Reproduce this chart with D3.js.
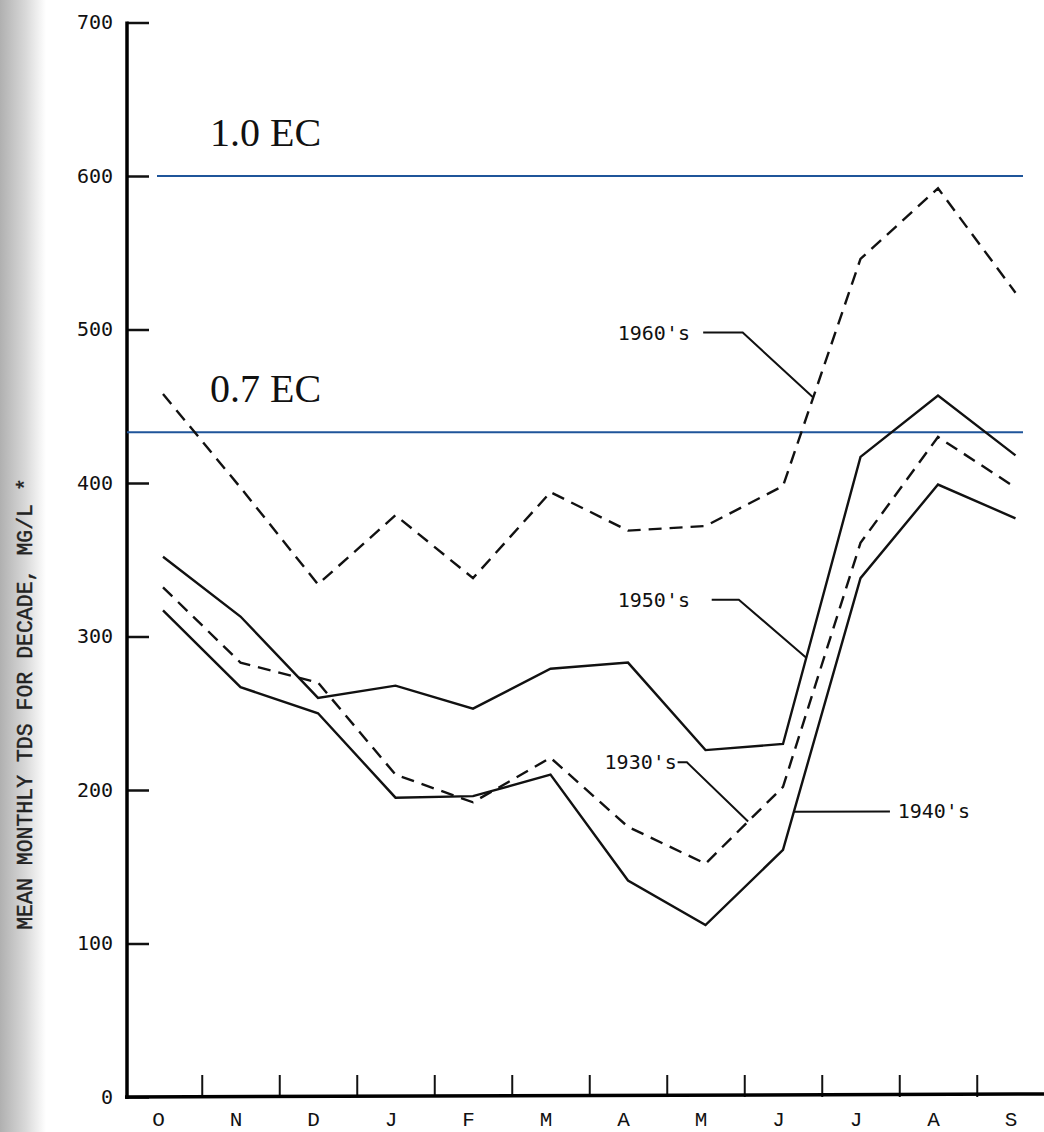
<!DOCTYPE html>
<html>
<head>
<meta charset="utf-8">
<script src="https://cdn.jsdelivr.net/npm/d3@7"></script>
<style>
  body { margin: 0; background: #fff; }
  svg { display: block; }
</style>
</head>
<body>
<div id="chart"></div>
<script>
// months of the water year, Oct..Sep
const months = ["O", "N", "D", "J", "F", "M", "A", "M", "J", "J", "A", "S"];
const yTicks = [0, 100, 200, 300, 400, 500, 600, 700];

// mean monthly TDS, mg/L
const tds1930s = [332, 283, 270, 210, 192, 221, 176, 152, 202, 361, 430, 397];
const tds1940s = [317, 267, 250, 195, 196, 210, 141, 112, 161, 338, 399, 377];
const tds1950s = [352, 313, 260, 268, 253, 279, 283, 226, 230, 417, 457, 418];
const tds1960s = [458, 397, 334, 379, 338, 394, 369, 372, 398, 546, 592, 524];

// EC reference levels (mg/L)
const ecLabels = ["1.0 EC", "0.7 EC"];
const ecValues = [600, 433];

const series = [
  { name: "1930's", values: tds1930s, dashed: true },
  { name: "1940's", values: tds1940s, dashed: false },
  { name: "1950's", values: tds1950s, dashed: false },
  { name: "1960's", values: tds1960s, dashed: true }
];

// label callouts: label anchor, elbow, and where the leader hits the curve (month index)
const callouts = [
  { name: "1960's", label: [6.80, 498], start: 6.97, elbow: [7.48, 498], hit: 8.39, anchor: "end" },
  { name: "1950's", label: [6.80, 324], start: 7.08, elbow: [7.43, 324], hit: 8.30, anchor: "end" },
  { name: "1930's", label: [6.63, 218], start: 6.64, elbow: [6.76, 218], hit: 7.55, anchor: "end" },
  { name: "1940's", label: [9.48, 186], start: 9.38, elbow: [9.38, 186], hit: 8.14, anchor: "start" }
];

const width = 1044, height = 1132;
const svg = d3.select("#chart").append("svg")
  .attr("width", width)
  .attr("height", height);

// scanner shadow on the left edge
const defs = svg.append("defs");
const grad = defs.append("linearGradient").attr("id", "edge");
grad.append("stop").attr("offset", "0%").attr("stop-color", "#b0b0b0");
grad.append("stop").attr("offset", "55%").attr("stop-color", "#d8d8d8");
grad.append("stop").attr("offset", "100%").attr("stop-color", "#fff");
svg.append("rect").attr("x", 0).attr("y", 0).attr("width", 46).attr("height", height)
  .attr("fill", "url(#edge)");

const x = d3.scaleLinear().domain([0, 11]).range([163, 1015.5]);
const y = d3.scaleLinear().domain([0, 700]).range([1097, 22.5]);

const mono = "'DejaVu Sans Mono', 'Liberation Mono', monospace";

// y axis
const yAxis = svg.append("g")
  .attr("transform", `translate(127,0)`)
  .call(d3.axisLeft(y).tickValues(yTicks).tickSizeInner(-22).tickSizeOuter(0).tickPadding(14));
yAxis.select(".domain").remove();
yAxis.selectAll(".tick line").attr("stroke", "#111").attr("stroke-width", 2.5);
yAxis.selectAll(".tick text")
  .attr("fill", "#111")
  .style("font-family", mono)
  .style("font-size", "20px");
svg.append("line")
  .attr("x1", 127).attr("x2", 127)
  .attr("y1", y(700) - 1).attr("y2", y(0) + 2)
  .attr("stroke", "#000").attr("stroke-width", 3.5);

// x axis: ticks between months, labels under months
const xTicks = svg.append("g")
  .attr("transform", `translate(0,${y(0)})`)
  .call(d3.axisBottom(x).tickValues(d3.range(0.5, 11, 1)).tickSizeInner(-22).tickSizeOuter(0).tickFormat(""));
xTicks.select(".domain").remove();
xTicks.selectAll(".tick line").attr("stroke", "#111").attr("stroke-width", 2);

const xLabels = svg.append("g")
  .attr("transform", `translate(-5,${y(0)})`)
  .call(d3.axisBottom(x).tickValues(d3.range(12)).tickSize(0).tickPadding(14)
    .tickFormat(i => months[i]));
xLabels.select(".domain").remove();
xLabels.selectAll(".tick text")
  .attr("fill", "#111")
  .style("font-family", "'Liberation Mono', monospace")
  .style("font-size", "21px");

svg.append("line")
  .attr("x1", 125).attr("x2", width)
  .attr("y1", y(0)).attr("y2", y(0) - 3)
  .attr("stroke", "#000").attr("stroke-width", 3.5);

// axis title
svg.append("text")
  .attr("transform", `translate(32,${704}) rotate(-90)`)
  .attr("text-anchor", "middle")
  .style("font-family", "'Liberation Mono', monospace")
  .style("font-size", "21.5px")
  .attr("fill", "#222")
  .attr("stroke", "#222")
  .attr("stroke-width", 0.4)
  .text("MEAN MONTHLY TDS FOR DECADE, MG/L *");

// EC reference lines
const ecStarts = [157, 127];
ecValues.forEach((v, i) => {
  svg.append("line")
    .attr("x1", ecStarts[i]).attr("x2", 1023)
    .attr("y1", y(v)).attr("y2", y(v))
    .attr("stroke", "#1f559a").attr("stroke-width", 2);
  svg.append("text")
    .attr("x", 210).attr("y", y(v) - 30)
    .style("font-family", "'Liberation Serif', 'DejaVu Serif', serif")
    .style("font-size", "40px")
    .attr("fill", "#111")
    .text(ecLabels[i]);
});

// decade curves
const line = d3.line().x((d, i) => x(i)).y(d => y(d));
svg.append("g").selectAll("path")
  .data(series)
  .join("path")
  .attr("d", d => line(d.values))
  .attr("fill", "none")
  .attr("stroke", "#111")
  .attr("stroke-width", 2.4)
  .attr("stroke-linejoin", "miter")
  .attr("stroke-dasharray", d => d.dashed ? "13,8" : null);

// callouts
const valueAt = (vals, t) => {
  const i = Math.floor(t), f = t - i;
  return vals[i] + f * (vals[i + 1] - vals[i]);
};
const calloutG = svg.append("g");
callouts.forEach(c => {
  const s = series.find(d => d.name === c.name);
  const pts = [[c.start, c.elbow[1]], c.elbow, [c.hit, valueAt(s.values, c.hit)]];
  calloutG.append("path")
    .attr("d", d3.line().x(d => x(d[0])).y(d => y(d[1]))(pts))
    .attr("fill", "none")
    .attr("stroke", "#111")
    .attr("stroke-width", 2);
  calloutG.append("text")
    .attr("x", x(c.label[0]))
    .attr("y", y(c.label[1]))
    .attr("dy", "0.35em")
    .attr("text-anchor", c.anchor)
    .style("font-family", mono)
    .style("font-size", "20px")
    .attr("fill", "#111")
    .text(c.name);
});
</script>
</body>
</html>
